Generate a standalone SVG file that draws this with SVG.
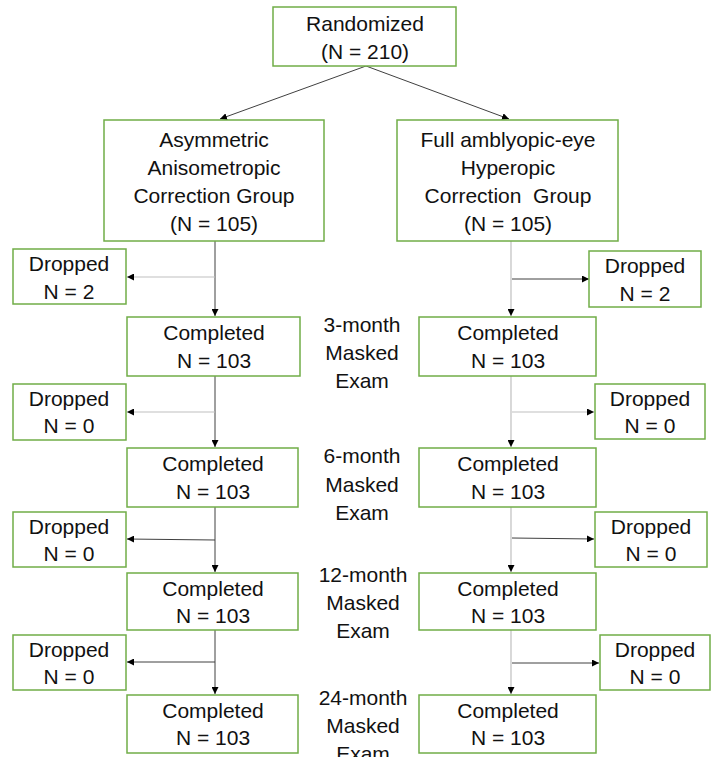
<svg xmlns="http://www.w3.org/2000/svg" width="715" height="757" viewBox="0 0 715 757">
<defs>
<style>
.box{fill:#fff;stroke:#70ad47;stroke-width:1.5}
text{font-family:"Liberation Sans",Arial,sans-serif;font-size:21px;fill:#111;text-anchor:middle}
.c{fill:none;stroke:#404040;stroke-width:1}
.l{fill:none;stroke:#bfbfbf;stroke-width:1.2}
</style>
<marker id="ah" viewBox="0 0 10 10" refX="10" refY="5" markerWidth="7" markerHeight="7" markerUnits="userSpaceOnUse" orient="auto">
<path d="M0,0 L10,5 L0,10 z" fill="#000"/>
</marker>
</defs>
<rect width="715" height="757" fill="#fff"/>
<g id="connectors">
<line class="c" x1="366" y1="66" x2="220" y2="119" marker-end="url(#ah)"/>
<line class="c" x1="366" y1="66" x2="509" y2="119" marker-end="url(#ah)"/>
<line class="c" x1="215" y1="241" x2="215" y2="316" marker-end="url(#ah)"/>
<line class="l" x1="215" y1="277" x2="127" y2="277" marker-end="url(#ah)"/>
<line class="l" x1="511" y1="241" x2="511" y2="316" marker-end="url(#ah)"/>
<line class="c" x1="512" y1="279" x2="589" y2="279" marker-end="url(#ah)"/>
<line class="c" x1="215" y1="376" x2="215" y2="447" marker-end="url(#ah)"/>
<line class="l" x1="215" y1="412" x2="127" y2="412" marker-end="url(#ah)"/>
<line class="l" x1="511" y1="376" x2="511" y2="447" marker-end="url(#ah)"/>
<line class="l" x1="512" y1="412" x2="594" y2="412" marker-end="url(#ah)"/>
<line class="c" x1="215" y1="507" x2="215" y2="572" marker-end="url(#ah)"/>
<line class="c" x1="215" y1="540" x2="127" y2="539" marker-end="url(#ah)"/>
<line class="l" x1="511" y1="507" x2="511" y2="572" marker-end="url(#ah)"/>
<line class="c" x1="512" y1="538" x2="594" y2="539" marker-end="url(#ah)"/>
<line class="c" x1="215" y1="630" x2="215" y2="694" marker-end="url(#ah)"/>
<line class="c" x1="215" y1="662" x2="127" y2="662" marker-end="url(#ah)"/>
<line class="l" x1="511" y1="630" x2="511" y2="694" marker-end="url(#ah)"/>
<line class="c" x1="512" y1="663" x2="599" y2="663" marker-end="url(#ah)"/>
</g>
<g id="randomized"><rect class="box" x="273" y="7" width="183" height="59"/><text x="365" y="31">Randomized</text><text x="365" y="59">(N = 210)</text></g>
<g id="group-asym"><rect class="box" x="104" y="120" width="220" height="121"/><text x="214" y="147">Asymmetric</text><text x="214" y="175">Anisometropic</text><text x="214" y="203">Correction Group</text><text x="214" y="231">(N = 105)</text></g>
<g id="group-full"><rect class="box" x="397" y="120" width="221" height="121"/><text x="508" y="147">Full amblyopic-eye</text><text x="508" y="175">Hyperopic</text><text x="508" y="203" xml:space="preserve">Correction  Group</text><text x="508" y="231">(N = 105)</text></g>

<g id="l-drop1"><rect class="box" x="13" y="249" width="113" height="55"/><text x="69" y="271">Dropped</text><text x="69" y="299">N = 2</text></g>
<g id="r-drop1"><rect class="box" x="589" y="251" width="112" height="56"/><text x="645" y="273">Dropped</text><text x="645" y="301">N = 2</text></g>
<g id="l-comp1"><rect class="box" x="127" y="317" width="173" height="59"/><text x="214" y="340">Completed</text><text x="214" y="368">N = 103</text></g>
<g id="r-comp1"><rect class="box" x="419" y="317" width="177" height="59"/><text x="508" y="340">Completed</text><text x="508" y="368">N = 103</text></g>
<g id="label-3"><text x="362" y="332">3-month</text><text x="362" y="360">Masked</text><text x="362" y="388">Exam</text></g>

<g id="l-drop2"><rect class="box" x="13" y="384" width="113" height="56"/><text x="69" y="406">Dropped</text><text x="69" y="433">N = 0</text></g>
<g id="r-drop2"><rect class="box" x="595" y="384" width="110" height="55"/><text x="650" y="406">Dropped</text><text x="650" y="433">N = 0</text></g>
<g id="l-comp2"><rect class="box" x="127" y="448" width="171" height="59"/><text x="213" y="471">Completed</text><text x="213" y="499">N = 103</text></g>
<g id="r-comp2"><rect class="box" x="419" y="448" width="177" height="59"/><text x="508" y="471">Completed</text><text x="508" y="499">N = 103</text></g>
<g id="label-6"><text x="362" y="463">6-month</text><text x="362" y="492">Masked</text><text x="362" y="520">Exam</text></g>

<g id="l-drop3"><rect class="box" x="13" y="512" width="113" height="55"/><text x="69" y="534">Dropped</text><text x="69" y="561">N = 0</text></g>
<g id="r-drop3"><rect class="box" x="595" y="512" width="112" height="55"/><text x="651" y="534">Dropped</text><text x="651" y="561">N = 0</text></g>
<g id="l-comp3"><rect class="box" x="127" y="573" width="171" height="57"/><text x="213" y="596">Completed</text><text x="213" y="623">N = 103</text></g>
<g id="r-comp3"><rect class="box" x="419" y="573" width="177" height="57"/><text x="508" y="596">Completed</text><text x="508" y="623">N = 103</text></g>
<g id="label-12"><text x="363" y="582">12-month</text><text x="363" y="610">Masked</text><text x="363" y="638">Exam</text></g>

<g id="l-drop4"><rect class="box" x="13" y="635" width="113" height="55"/><text x="69" y="657">Dropped</text><text x="69" y="684">N = 0</text></g>
<g id="r-drop4"><rect class="box" x="600" y="635" width="110" height="55"/><text x="655" y="657">Dropped</text><text x="655" y="684">N = 0</text></g>
<g id="l-comp4"><rect class="box" x="127" y="695" width="171" height="58"/><text x="213" y="718">Completed</text><text x="213" y="745">N = 103</text></g>
<g id="r-comp4"><rect class="box" x="419" y="695" width="177" height="58"/><text x="508" y="718">Completed</text><text x="508" y="745">N = 103</text></g>
<g id="label-24"><text x="363" y="705">24-month</text><text x="363" y="733">Masked</text><text x="363" y="761">Exam</text></g>
</svg>
